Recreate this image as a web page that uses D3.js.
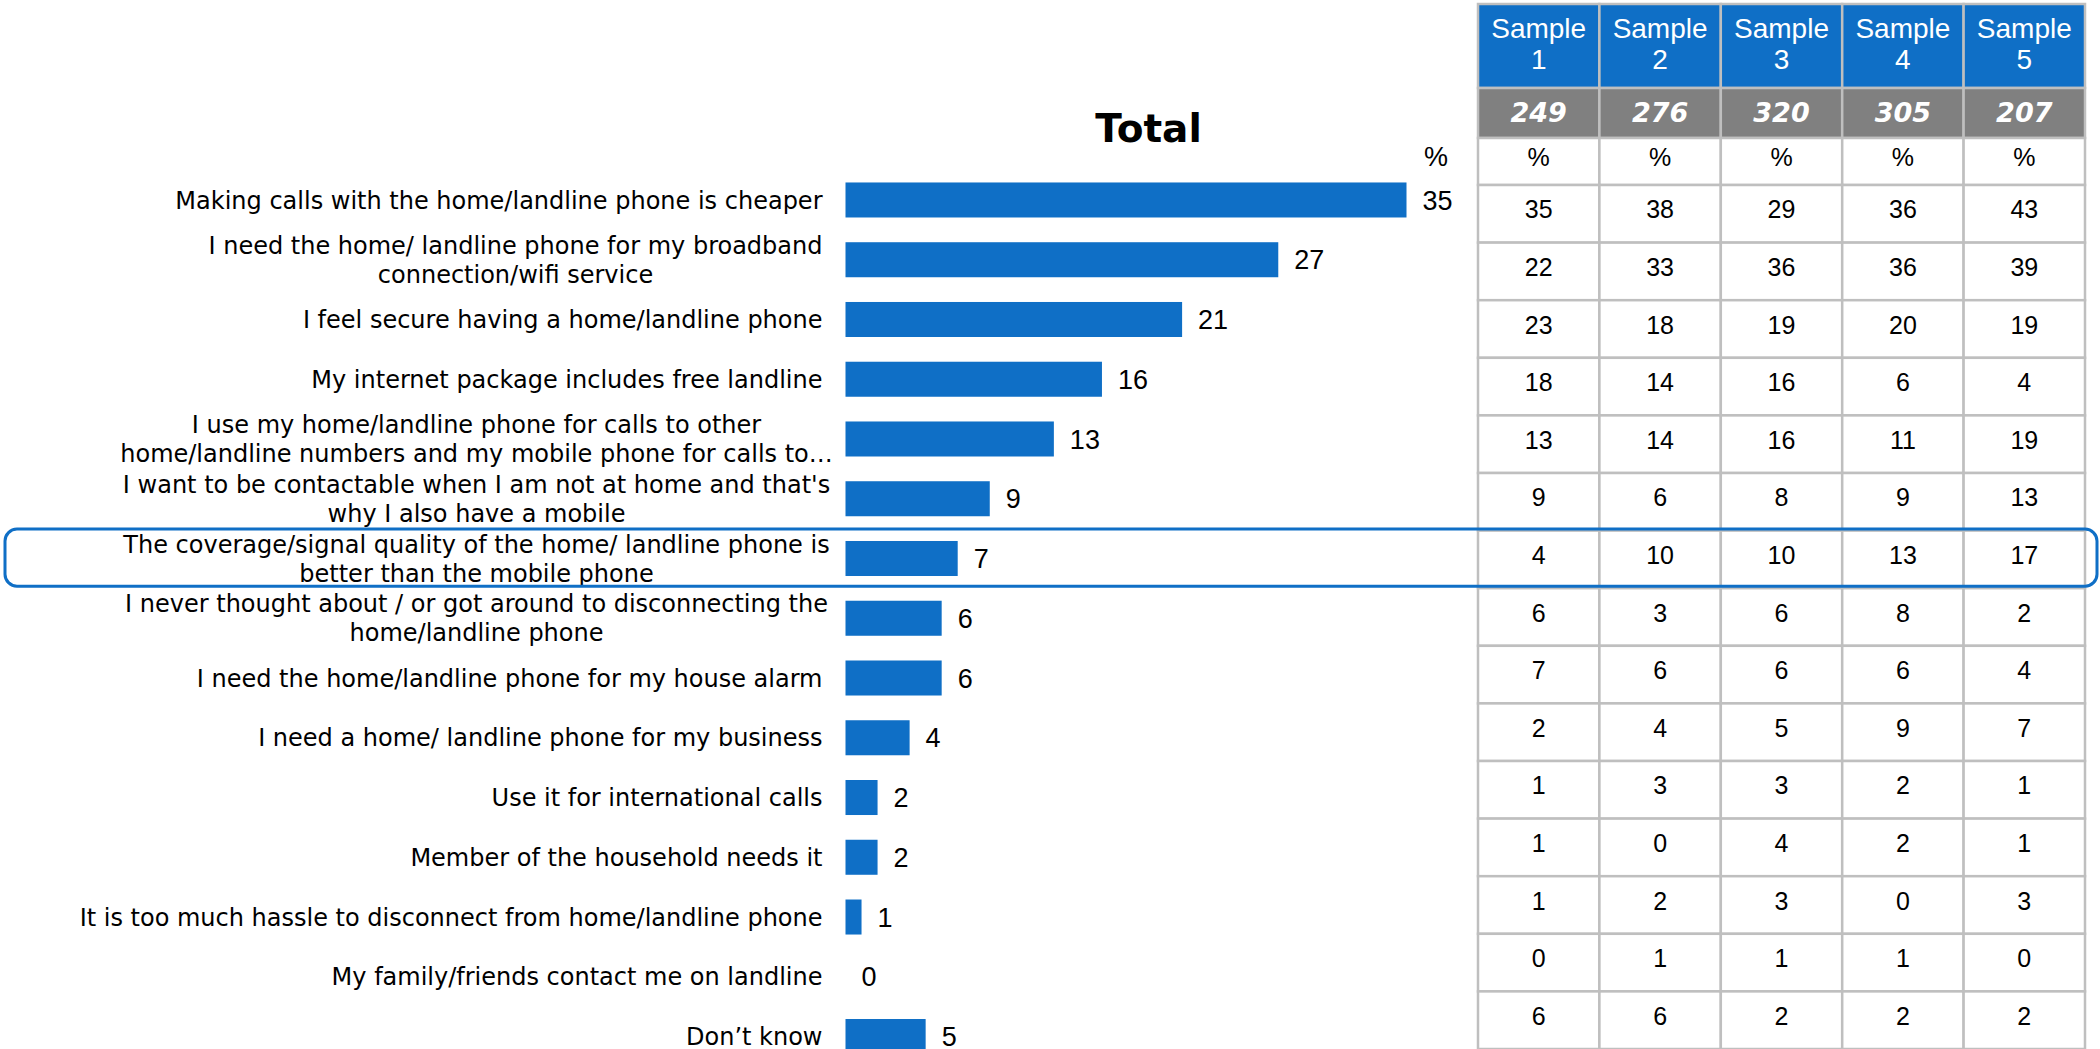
<!DOCTYPE html>
<html>
<head>
<meta charset="utf-8">
<script src="https://cdn.jsdelivr.net/npm/d3@7/dist/d3.min.js"></script>
<style>
  html, body { margin: 0; padding: 0; background: #ffffff; }
  svg { display: block; }
</style>
</head>
<body>
<svg id="chart" width="2100" height="1049"></svg>
<script>
// Reasons for keeping a home/landline phone (label lines as wrapped in the chart)
const reasons = [
  ["Making calls with the home/landline phone is cheaper"],
  ["I need the home/ landline phone for my broadband", "connection/wifi service"],
  ["I feel secure having a home/landline phone"],
  ["My internet package includes free landline"],
  ["I use my home/landline phone for calls to other", "home/landline numbers and my mobile phone for calls to\u2026"],
  ["I want to be contactable when I am not at home and that's", "why I also have a mobile"],
  ["The coverage/signal quality of the home/ landline phone is", "better than the mobile phone"],
  ["I never thought about / or got around to disconnecting the", "home/landline phone"],
  ["I need the home/landline phone for my house alarm"],
  ["I need a home/ landline phone for my business"],
  ["Use it for international calls"],
  ["Member of the household needs it"],
  ["It is too much hassle to disconnect from home/landline phone"],
  ["My family/friends contact me on landline"],
  ["Don\u2019t know"]
];

// Total (%)
const totals = [35, 27, 21, 16, 13, 9, 7, 6, 6, 4, 2, 2, 1, 0, 5];

// Sample columns
const sampleHeaders = [["Sample", "1"], ["Sample", "2"], ["Sample", "3"], ["Sample", "4"], ["Sample", "5"]];
const sampleBases = [249, 276, 320, 305, 207];
const sample1 = [35, 22, 23, 18, 13, 9, 4, 6, 7, 2, 1, 1, 1, 0, 6];
const sample2 = [38, 33, 18, 14, 14, 6, 10, 3, 6, 4, 3, 0, 2, 1, 6];
const sample3 = [29, 36, 19, 16, 16, 8, 10, 6, 6, 5, 3, 4, 3, 1, 2];
const sample4 = [36, 36, 20, 6, 11, 9, 13, 8, 6, 9, 2, 2, 0, 1, 2];
const sample5 = [43, 39, 19, 4, 19, 13, 17, 2, 4, 7, 1, 1, 3, 0, 2];
const sampleValues = [sample1, sample2, sample3, sample4, sample5];

// Row highlighted with a rounded frame
const highlightRow = 6;

const BLUE = "#0F6FC6";
const GREY_HEAD = "#808080";
const GRID = "#BFBFBF";
const LABEL_FONT = "'DejaVu Sans', Verdana, sans-serif";
const NUM_FONT = "'Liberation Sans', Arial, sans-serif";

const svg = d3.select("#chart");
const idx = d3.range(reasons.length);

// ---------- Bar chart ----------
const x = d3.scaleLinear().domain([0, 35]).range([845.5, 1406.5]);
const y = d3.scaleBand().domain(idx).range([170.1, 1066.4])
  .paddingInner(0.414).paddingOuter(0.207);

svg.append("text")
  .attr("x", 1148.5).attr("y", 142)
  .attr("text-anchor", "middle")
  .attr("font-family", LABEL_FONT)
  .attr("font-weight", "bold")
  .attr("font-size", 39)
  .attr("fill", "#000")
  .text("Total");

svg.append("text")
  .attr("x", 1436).attr("y", 166)
  .attr("text-anchor", "middle")
  .attr("font-family", NUM_FONT)
  .attr("font-size", 27)
  .attr("fill", "#000")
  .text("%");

svg.append("g").selectAll("rect")
  .data(totals)
  .join("rect")
  .attr("x", x(0))
  .attr("y", (d, i) => y(i))
  .attr("width", d => x(d) - x(0))
  .attr("height", y.bandwidth())
  .attr("fill", BLUE);

svg.append("g").selectAll("text")
  .data(totals)
  .join("text")
  .attr("x", d => x(d) + 16)
  .attr("y", (d, i) => y(i) + y.bandwidth() / 2 + 9.7)
  .attr("font-family", NUM_FONT)
  .attr("font-size", 27)
  .attr("fill", "#000")
  .text(d => d);

// Category axis: wrapped labels have their lines centred within a
// right-aligned block of limited width; single lines are right-aligned
const maxWrapWidth = 692;
const labelGap = 23;
const axis = svg.append("g")
  .attr("transform", `translate(${x(0)},0)`)
  .call(d3.axisLeft(y).tickSize(0).tickPadding(0).tickFormat(() => ""));
axis.select(".domain").remove();
axis.selectAll(".tick text").each(function (i) {
  const t = d3.select(this)
    .attr("font-family", LABEL_FONT)
    .attr("font-size", 24)
    .attr("fill", "#000")
    .attr("dy", null)
    .attr("x", null);
  const lines = reasons[i];
  if (lines.length === 1) {
    t.attr("text-anchor", "end").attr("x", -labelGap).attr("y", 8.7).text(lines[0]);
    return;
  }
  t.attr("text-anchor", "middle");
  const offsets = [-5.8, 23.2];
  const spans = lines.map((ln, k) =>
    t.append("tspan").attr("y", offsets[k]).text(ln));
  const w = Math.min(maxWrapWidth, d3.max(spans, s => s.node().getComputedTextLength()));
  const cx = -labelGap - w / 2;
  spans.forEach(s => s.attr("x", cx));
});

// ---------- Sample table ----------
const col = d3.scaleBand().domain(d3.range(sampleHeaders.length)).range([1478, 2085]);
const row = d3.scaleBand().domain(idx).range([185, 1049]);
const headTop = 4, headMid = 88, baseBottom = 138, pctBottom = 185;

const table = svg.append("g");

function cell(xi, y0, h, fill) {
  table.append("rect")
    .attr("x", col(xi)).attr("y", y0)
    .attr("width", col.bandwidth()).attr("height", h)
    .attr("fill", fill)
    .attr("stroke", GRID).attr("stroke-width", 2.5);
}

sampleHeaders.forEach((hd, j) => {
  cell(j, headTop, headMid - headTop, BLUE);
  cell(j, headMid, baseBottom - headMid, GREY_HEAD);
  cell(j, baseBottom, pctBottom - baseBottom, "#fff");
  const cx = col(j) + col.bandwidth() / 2;
  table.append("text")
    .attr("text-anchor", "middle")
    .attr("font-family", NUM_FONT).attr("font-size", 28)
    .attr("fill", "#fff")
    .selectAll("tspan").data(hd).join("tspan")
    .attr("x", cx).attr("y", (d, k) => 38 + k * 31)
    .text(d => d);
  table.append("text")
    .attr("x", cx).attr("y", 122)
    .attr("text-anchor", "middle")
    .attr("font-family", LABEL_FONT).attr("font-size", 27)
    .attr("font-weight", "bold").attr("font-style", "italic")
    .attr("fill", "#fff")
    .text(sampleBases[j]);
  table.append("text")
    .attr("x", cx).attr("y", 166)
    .attr("text-anchor", "middle")
    .attr("font-family", NUM_FONT).attr("font-size", 25)
    .attr("fill", "#000")
    .text("%");
});

sampleValues.forEach((vals, j) => {
  vals.forEach((v, i) => {
    cell(j, row(i), row.bandwidth(), "#fff");
  });
});
sampleValues.forEach((vals, j) => {
  table.append("g").selectAll("text")
    .data(vals)
    .join("text")
    .attr("x", col(j) + col.bandwidth() / 2)
    .attr("y", (d, i) => row(i) + 33.4)
    .attr("text-anchor", "middle")
    .attr("font-family", NUM_FONT).attr("font-size", 25)
    .attr("fill", "#000")
    .text(d => d);
});

// Highlight frame across the chart and table
svg.append("rect")
  .attr("x", 5)
  .attr("y", row(highlightRow) - 1.5)
  .attr("width", 2092)
  .attr("height", row.bandwidth() - 0.5)
  .attr("rx", 12).attr("ry", 12)
  .attr("fill", "none")
  .attr("stroke", BLUE)
  .attr("stroke-width", 3);
</script>
</body>
</html>
